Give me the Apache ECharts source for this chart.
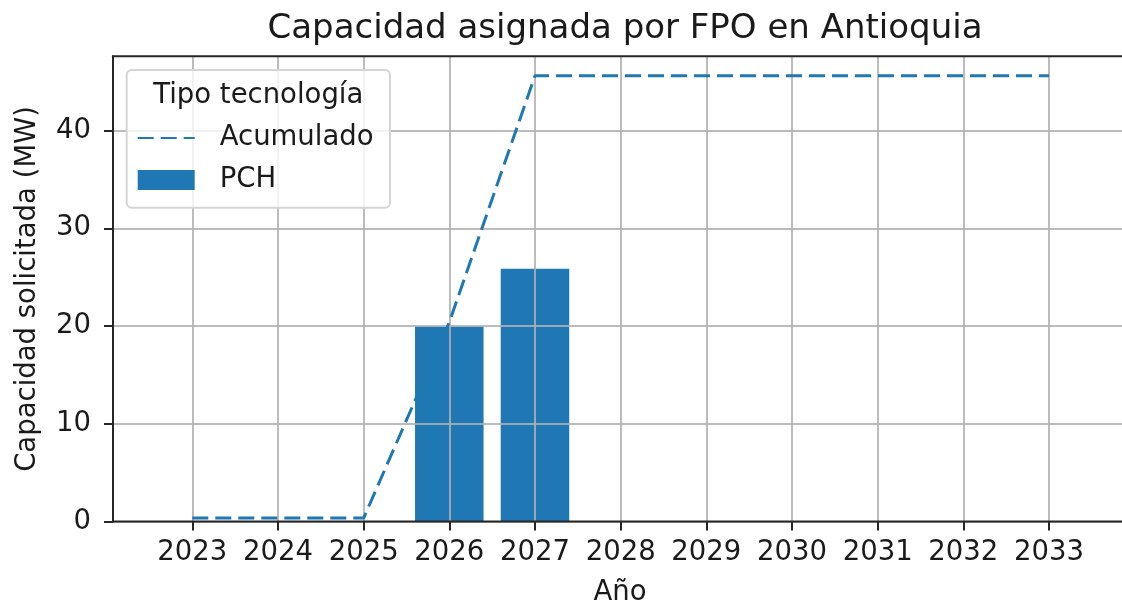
<!DOCTYPE html>
<html><head><meta charset="utf-8">
<script src="https://cdn.jsdelivr.net/npm/echarts@6/dist/echarts.min.js"></script>
<style>html,body{margin:0;padding:0;background:#fff}#c{width:1122px;height:607px}</style>
</head><body><div id="c"></div>
<script>
const years = ['2023','2024','2025','2026','2027','2028','2029','2030','2031','2032','2033'];
const pch = [null, null, null, 19.95, 25.85, null, null, null, null, null, null];
const acumulado = [0.35, 0.35, 0.35, 20.4, 45.6, 45.6, 45.6, 45.6, 45.6, 45.6, 45.6];
const yTicks = [0, 10, 20, 30, 40];

const FONT = 'DejaVu Sans';
const TXT = '#1a1a1a';
const SPINE = '#262626';
const GRIDC = 'rgba(176,176,176,0.85)';
const BLUE = '#1f77b4';
const FS = 27.5;

const chart = echarts.init(document.getElementById('c'), null, {renderer: 'canvas'});
const option = {
  animation: false,
  backgroundColor: '#fff',
  title: {
    text: 'Capacidad asignada por FPO en Antioquia',
    left: 620, top: 7, textAlign: 'center',
    textStyle: {fontFamily: FONT, fontSize: 34, fontWeight: 'normal', color: TXT}
  },
  grid: [
    {left: 113, right: -20, top: 56.3, bottom: 85.5, show: true, borderColor: SPINE, borderWidth: 2,
     backgroundColor: 'transparent', z: 5, containLabel: false, outerBoundsMode: 'none'},
    {left: 192.3, right: 73, top: 56.3, bottom: 85.5, containLabel: false, outerBoundsMode: 'none'}
  ],
  xAxis: [
    {gridIndex: 0, type: 'value', min: 0, max: 1, name: 'Año', nameLocation: 'middle', nameGap: 57,
     nameTextStyle: {fontFamily: FONT, fontSize: FS, color: TXT, padding: [0, 15, 0, 0]},
     axisLine: {show: false}, axisTick: {show: false}, axisLabel: {show: false}, splitLine: {show: false}},
    {gridIndex: 1, type: 'category', data: years, boundaryGap: false, z: 3,
     axisLine: {show: false},
     axisTick: {show: true, length: 9, interval: 0, lineStyle: {color: SPINE, width: 2}},
     axisLabel: {interval: 0, margin: 17, fontFamily: FONT, fontSize: FS, color: TXT},
     splitLine: {show: true, interval: 0, lineStyle: {color: GRIDC, width: 2}}}
  ],
  yAxis: [
    {gridIndex: 0, type: 'value', min: 0, max: 47.6, z: 3,
     name: 'Capacidad solicitada (MW)', nameLocation: 'middle', nameGap: 71,
     nameTextStyle: {fontFamily: FONT, fontSize: FS, color: TXT},
     axisLine: {show: true, lineStyle: {color: SPINE, width: 2}},
     axisTick: {show: true, length: 9, customValues: yTicks, lineStyle: {color: SPINE, width: 2}},
     axisLabel: {customValues: yTicks, margin: 22, fontFamily: FONT, fontSize: FS, color: TXT,
                 formatter: v => (yTicks.indexOf(v) >= 0 ? String(v) : '')},
     splitLine: {show: true, lineStyle: {color: GRIDC, width: 2}}},
    {gridIndex: 1, type: 'value', min: 0, max: 47.6, show: false, splitLine: {show: false}}
  ],
  legend: {
    orient: 'vertical', left: 136.7, top: 124, padding: 0, itemGap: 14, z: 20,
    itemWidth: 57, itemHeight: 20,
    textStyle: {fontFamily: FONT, fontSize: FS, color: TXT, padding: [0, 0, 0, 20]},
    data: [{name: 'Acumulado', itemStyle: {opacity: 0}}, {name: 'PCH', icon: 'rect'}]
  },
  graphic: [
    {type: 'rect', z: 10, shape: {x: 126.7, y: 70, width: 263.3, height: 137.7, r: 5},
     style: {fill: 'rgba(255,255,255,0.8)', stroke: '#d5d5d5', lineWidth: 2}},
    {type: 'text', z: 11, style: {text: 'Tipo tecnología', x: 258.3, y: 96, textAlign: 'center', textVerticalAlign: 'middle',
     font: FS + 'px "DejaVu Sans"', fill: TXT}}
  ],
  series: [
    {name: 'PCH', type: 'bar', xAxisIndex: 1, yAxisIndex: 1, data: pch, barWidth: '80%', z: 2,
     itemStyle: {color: BLUE}},
    {name: 'Acumulado', type: 'line', xAxisIndex: 1, yAxisIndex: 1, data: acumulado, z: 4,
     symbol: 'none', showSymbol: false,
     lineStyle: {color: BLUE, width: 3, type: [16, 7]}, itemStyle: {color: BLUE}}
  ]
};
chart.setOption(option);
</script>
</body></html>
